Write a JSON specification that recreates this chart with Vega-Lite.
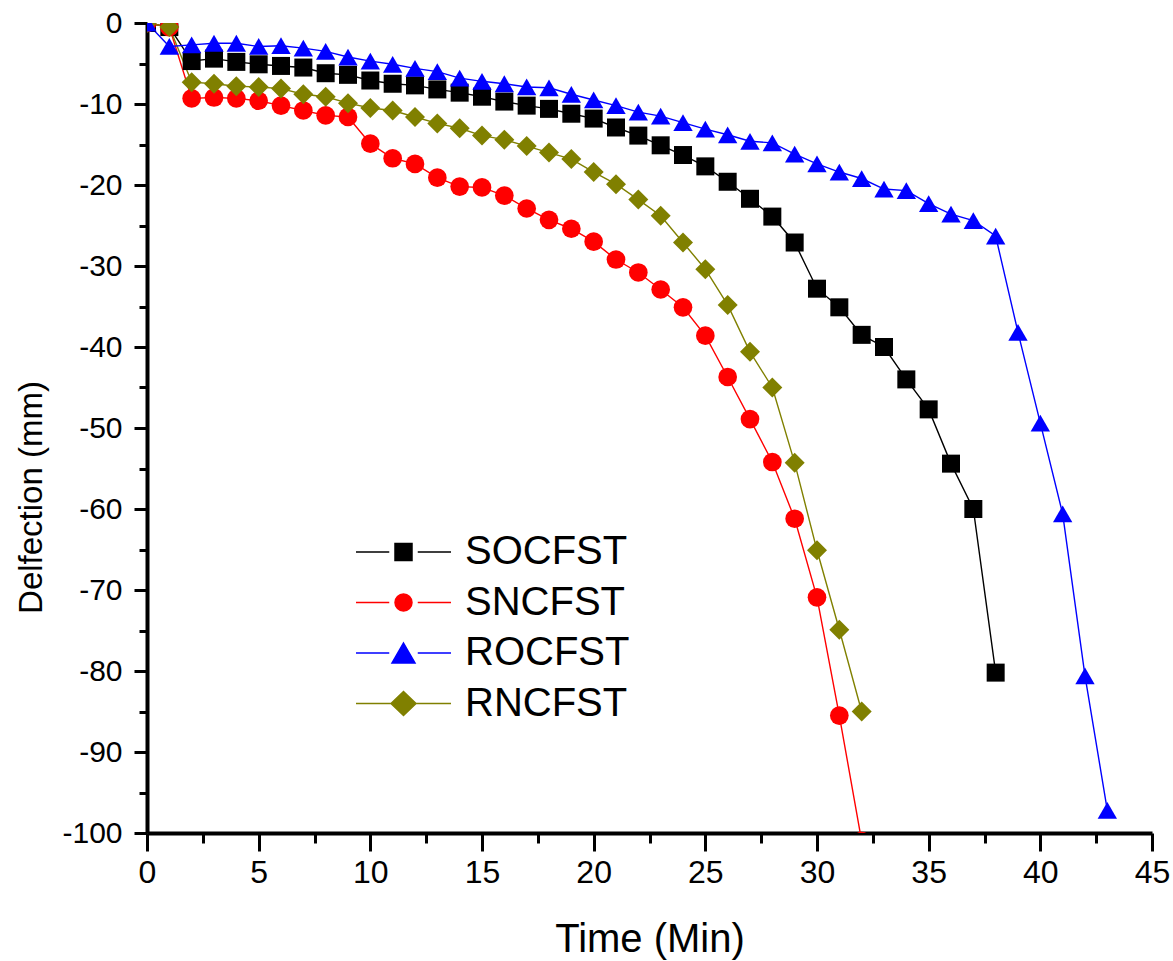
{
  "$schema": "https://vega.github.io/schema/vega-lite/v6.json",
  "width": 1005,
  "height": 810,
  "autosize": {"type": "none"},
  "padding": {"left": 147, "top": 23, "right": 21, "bottom": 128},
  "background": "white",
  "config": {"view": {"stroke": null}, "axis": {"grid": false}},
  "data": {"values": [
    {"series":"SOCFST","time":0,"deflection":0},{"series":"SOCFST","time":1,"deflection":-0.5},{"series":"SOCFST","time":2,"deflection":-4.7},{"series":"SOCFST","time":3,"deflection":-4.4},{"series":"SOCFST","time":4,"deflection":-4.8},{"series":"SOCFST","time":5,"deflection":-5.1},{"series":"SOCFST","time":6,"deflection":-5.3},{"series":"SOCFST","time":7,"deflection":-5.5},{"series":"SOCFST","time":8,"deflection":-6.2},{"series":"SOCFST","time":9,"deflection":-6.4},{"series":"SOCFST","time":10,"deflection":-7.1},{"series":"SOCFST","time":11,"deflection":-7.5},{"series":"SOCFST","time":12,"deflection":-7.7},{"series":"SOCFST","time":13,"deflection":-8.2},{"series":"SOCFST","time":14,"deflection":-8.6},{"series":"SOCFST","time":15,"deflection":-9.1},{"series":"SOCFST","time":16,"deflection":-9.7},{"series":"SOCFST","time":17,"deflection":-10.2},{"series":"SOCFST","time":18,"deflection":-10.6},{"series":"SOCFST","time":19,"deflection":-11.2},{"series":"SOCFST","time":20,"deflection":-11.8},{"series":"SOCFST","time":21,"deflection":-12.9},{"series":"SOCFST","time":22,"deflection":-13.9},{"series":"SOCFST","time":23,"deflection":-15.1},{"series":"SOCFST","time":24,"deflection":-16.3},{"series":"SOCFST","time":25,"deflection":-17.7},{"series":"SOCFST","time":26,"deflection":-19.6},{"series":"SOCFST","time":27,"deflection":-21.7},{"series":"SOCFST","time":28,"deflection":-23.9},{"series":"SOCFST","time":29,"deflection":-27.1},{"series":"SOCFST","time":30,"deflection":-32.8},{"series":"SOCFST","time":31,"deflection":-35.1},{"series":"SOCFST","time":32,"deflection":-38.5},{"series":"SOCFST","time":33,"deflection":-40.0},{"series":"SOCFST","time":34,"deflection":-44.0},{"series":"SOCFST","time":35,"deflection":-47.7},{"series":"SOCFST","time":36,"deflection":-54.4},{"series":"SOCFST","time":37,"deflection":-60.0},{"series":"SOCFST","time":38,"deflection":-80.2},
    {"series":"SNCFST","time":0,"deflection":0},{"series":"SNCFST","time":1,"deflection":-0.5},{"series":"SNCFST","time":2,"deflection":-9.3},{"series":"SNCFST","time":3,"deflection":-9.2},{"series":"SNCFST","time":4,"deflection":-9.3},{"series":"SNCFST","time":5,"deflection":-9.6},{"series":"SNCFST","time":6,"deflection":-10.2},{"series":"SNCFST","time":7,"deflection":-10.8},{"series":"SNCFST","time":8,"deflection":-11.4},{"series":"SNCFST","time":9,"deflection":-11.6},{"series":"SNCFST","time":10,"deflection":-14.9},{"series":"SNCFST","time":11,"deflection":-16.7},{"series":"SNCFST","time":12,"deflection":-17.4},{"series":"SNCFST","time":13,"deflection":-19.1},{"series":"SNCFST","time":14,"deflection":-20.2},{"series":"SNCFST","time":15,"deflection":-20.3},{"series":"SNCFST","time":16,"deflection":-21.3},{"series":"SNCFST","time":17,"deflection":-22.9},{"series":"SNCFST","time":18,"deflection":-24.3},{"series":"SNCFST","time":19,"deflection":-25.4},{"series":"SNCFST","time":20,"deflection":-27.0},{"series":"SNCFST","time":21,"deflection":-29.2},{"series":"SNCFST","time":22,"deflection":-30.8},{"series":"SNCFST","time":23,"deflection":-32.9},{"series":"SNCFST","time":24,"deflection":-35.1},{"series":"SNCFST","time":25,"deflection":-38.6},{"series":"SNCFST","time":26,"deflection":-43.7},{"series":"SNCFST","time":27,"deflection":-48.9},{"series":"SNCFST","time":28,"deflection":-54.2},{"series":"SNCFST","time":29,"deflection":-61.2},{"series":"SNCFST","time":30,"deflection":-70.9},{"series":"SNCFST","time":31,"deflection":-85.5},{"series":"SNCFST","time":32,"deflection":-101},
    {"series":"RNCFST","time":0,"deflection":0},{"series":"RNCFST","time":1,"deflection":-0.5},{"series":"RNCFST","time":2,"deflection":-7.3},{"series":"RNCFST","time":3,"deflection":-7.5},{"series":"RNCFST","time":4,"deflection":-7.8},{"series":"RNCFST","time":5,"deflection":-7.9},{"series":"RNCFST","time":6,"deflection":-8.1},{"series":"RNCFST","time":7,"deflection":-8.8},{"series":"RNCFST","time":8,"deflection":-9.1},{"series":"RNCFST","time":9,"deflection":-9.9},{"series":"RNCFST","time":10,"deflection":-10.5},{"series":"RNCFST","time":11,"deflection":-10.8},{"series":"RNCFST","time":12,"deflection":-11.6},{"series":"RNCFST","time":13,"deflection":-12.4},{"series":"RNCFST","time":14,"deflection":-13.0},{"series":"RNCFST","time":15,"deflection":-13.9},{"series":"RNCFST","time":16,"deflection":-14.4},{"series":"RNCFST","time":17,"deflection":-15.2},{"series":"RNCFST","time":18,"deflection":-16.0},{"series":"RNCFST","time":19,"deflection":-16.8},{"series":"RNCFST","time":20,"deflection":-18.4},{"series":"RNCFST","time":21,"deflection":-19.9},{"series":"RNCFST","time":22,"deflection":-21.8},{"series":"RNCFST","time":23,"deflection":-23.8},{"series":"RNCFST","time":24,"deflection":-27.1},{"series":"RNCFST","time":25,"deflection":-30.4},{"series":"RNCFST","time":26,"deflection":-34.8},{"series":"RNCFST","time":27,"deflection":-40.6},{"series":"RNCFST","time":28,"deflection":-45.0},{"series":"RNCFST","time":29,"deflection":-54.3},{"series":"RNCFST","time":30,"deflection":-65.1},{"series":"RNCFST","time":31,"deflection":-74.9},{"series":"RNCFST","time":32,"deflection":-85.0},
    {"series":"ROCFST","time":0,"deflection":0},{"series":"ROCFST","time":1,"deflection":-2.9},{"series":"ROCFST","time":2,"deflection":-2.7},{"series":"ROCFST","time":3,"deflection":-2.5},{"series":"ROCFST","time":4,"deflection":-2.5},{"series":"ROCFST","time":5,"deflection":-2.9},{"series":"ROCFST","time":6,"deflection":-2.8},{"series":"ROCFST","time":7,"deflection":-3.1},{"series":"ROCFST","time":8,"deflection":-3.5},{"series":"ROCFST","time":9,"deflection":-4.2},{"series":"ROCFST","time":10,"deflection":-4.7},{"series":"ROCFST","time":11,"deflection":-5.1},{"series":"ROCFST","time":12,"deflection":-5.6},{"series":"ROCFST","time":13,"deflection":-6.0},{"series":"ROCFST","time":14,"deflection":-6.8},{"series":"ROCFST","time":15,"deflection":-7.2},{"series":"ROCFST","time":16,"deflection":-7.5},{"series":"ROCFST","time":17,"deflection":-7.9},{"series":"ROCFST","time":18,"deflection":-8.0},{"series":"ROCFST","time":19,"deflection":-8.8},{"series":"ROCFST","time":20,"deflection":-9.5},{"series":"ROCFST","time":21,"deflection":-10.2},{"series":"ROCFST","time":22,"deflection":-11.0},{"series":"ROCFST","time":23,"deflection":-11.5},{"series":"ROCFST","time":24,"deflection":-12.3},{"series":"ROCFST","time":25,"deflection":-13.1},{"series":"ROCFST","time":26,"deflection":-13.8},{"series":"ROCFST","time":27,"deflection":-14.6},{"series":"ROCFST","time":28,"deflection":-14.8},{"series":"ROCFST","time":29,"deflection":-16.2},{"series":"ROCFST","time":30,"deflection":-17.4},{"series":"ROCFST","time":31,"deflection":-18.4},{"series":"ROCFST","time":32,"deflection":-19.2},{"series":"ROCFST","time":33,"deflection":-20.5},{"series":"ROCFST","time":34,"deflection":-20.7},{"series":"ROCFST","time":35,"deflection":-22.3},{"series":"ROCFST","time":36,"deflection":-23.6},{"series":"ROCFST","time":37,"deflection":-24.4},{"series":"ROCFST","time":38,"deflection":-26.3},{"series":"ROCFST","time":39,"deflection":-38.2},{"series":"ROCFST","time":40,"deflection":-49.4},{"series":"ROCFST","time":41,"deflection":-60.6},{"series":"ROCFST","time":42,"deflection":-80.6},{"series":"ROCFST","time":43,"deflection":-97.2}
  ]},
  "encoding": {
    "x": {"field": "time", "type": "quantitative", "scale": {"domain": [0, 45], "nice": false, "zero": false},
      "axis": {"values": [0,2.5,5,7.5,10,12.5,15,17.5,20,22.5,25,27.5,30,32.5,35,37.5,40,42.5,45],
        "labelExpr": "datum.value % 5 === 0 ? datum.label : ''",
        "tickSize": {"condition": {"test": "datum.value % 5 === 0", "value": 18}, "value": 10},
        "tickWidth": 3, "tickColor": "black", "domainWidth": 4, "domainColor": "black",
        "labelFont": "Liberation Sans", "labelFontSize": 32, "labelColor": "black", "labelPadding": 6,
        "labelFlush": false, "labelOverlap": false,
        "title": "Time (Min)", "titleFont": "Liberation Sans", "titleFontSize": 40, "titleFontWeight": "normal",
        "titleColor": "black", "titleY": 106, "titleBaseline": "middle"}},
    "y": {"field": "deflection", "type": "quantitative", "scale": {"domain": [-100, 0], "nice": false, "zero": false},
      "axis": {"values": [-100,-95,-90,-85,-80,-75,-70,-65,-60,-55,-50,-45,-40,-35,-30,-25,-20,-15,-10,-5,0],
        "labelExpr": "datum.value % 10 === 0 ? '' + datum.value : ''",
        "tickSize": {"condition": {"test": "datum.value % 10 === 0", "value": 13}, "value": 8},
        "tickWidth": 3, "tickColor": "black", "domainWidth": 4, "domainColor": "black",
        "labelFont": "Liberation Sans", "labelFontSize": 30, "labelColor": "black", "labelPadding": 12,
        "labelFlush": false, "labelOverlap": false,
        "title": "Delfection (mm)", "titleFont": "Liberation Sans", "titleFontSize": 33, "titleFontWeight": "normal",
        "titleColor": "black", "titleX": -116, "titleY": 474, "titleAngle": -90, "titleBaseline": "middle", "titleAlign": "center"}}
  },
  "layer": [
    {
      "mark": {"type": "line", "strokeWidth": 1.4, "clip": true},
      "encoding": {
        "stroke": {"field": "series", "type": "nominal",
          "scale": {"domain": ["SOCFST","SNCFST","ROCFST","RNCFST"], "range": ["#000000","#ff0000","#0000ff","#808000"]},
          "legend": {"orient": "none", "legendX": 208, "legendY": 509, "title": null,
            "symbolSize": 9025, "symbolStrokeWidth": 1.5, "clipHeight": 40,
            "labelFont": "Liberation Sans", "labelFontSize": 40, "labelColor": "black", "labelOffset": 13,
            "labelLimit": 400, "rowPadding": 10.5, "padding": 0, "offset": 0,
            "encode": {"symbols": {"update": {
              "shape": {"signal": "datum.value === 'SOCFST' ? 'M-1,0H-0.3M0.3,0H1M-0.179,-0.179H0.179V0.179H-0.179Z' : datum.value === 'SNCFST' ? 'M-1,0H-0.3M0.3,0H1M-0.179,0A0.179,0.179,0,1,0,0.179,0A0.179,0.179,0,1,0,-0.179,0Z' : datum.value === 'ROCFST' ? 'M-1,0H-0.3M0.3,0H1M0,-0.21L0.242,0.21L-0.242,0.21Z' : 'M-1,0H-0.26M0.26,0H1M-0.263,0L0,-0.25L0.263,0L0,0.25Z'"},
              "fill": {"signal": "datum.value === 'SOCFST' ? '#000000' : datum.value === 'SNCFST' ? '#ff0000' : datum.value === 'ROCFST' ? '#0000ff' : '#808000'"},
              "fillOpacity": {"value": 1},
              "opacity": {"value": 1}
            }}}}}
      }
    },
    {
      "mark": {"type": "point", "filled": true, "opacity": 1, "clip": true},
      "encoding": {
        "color": {"field": "series", "type": "nominal", "sort": ["SOCFST","SNCFST","ROCFST","RNCFST"],
          "scale": {"range": ["#000000","#ff0000","#0000ff","#808000"]},
          "legend": null},
        "shape": {"field": "series", "type": "nominal", "sort": ["SOCFST","SNCFST","ROCFST","RNCFST"],
          "scale": {"range": ["square","circle","triangle-up","diamond"]},
          "legend": null},
        "size": {"field": "series", "type": "nominal", "sort": ["SOCFST","SNCFST","ROCFST","RNCFST"],
          "scale": {"range": [324, 400, 560, 576]},
          "legend": null}
      }
    }
  ]
}
